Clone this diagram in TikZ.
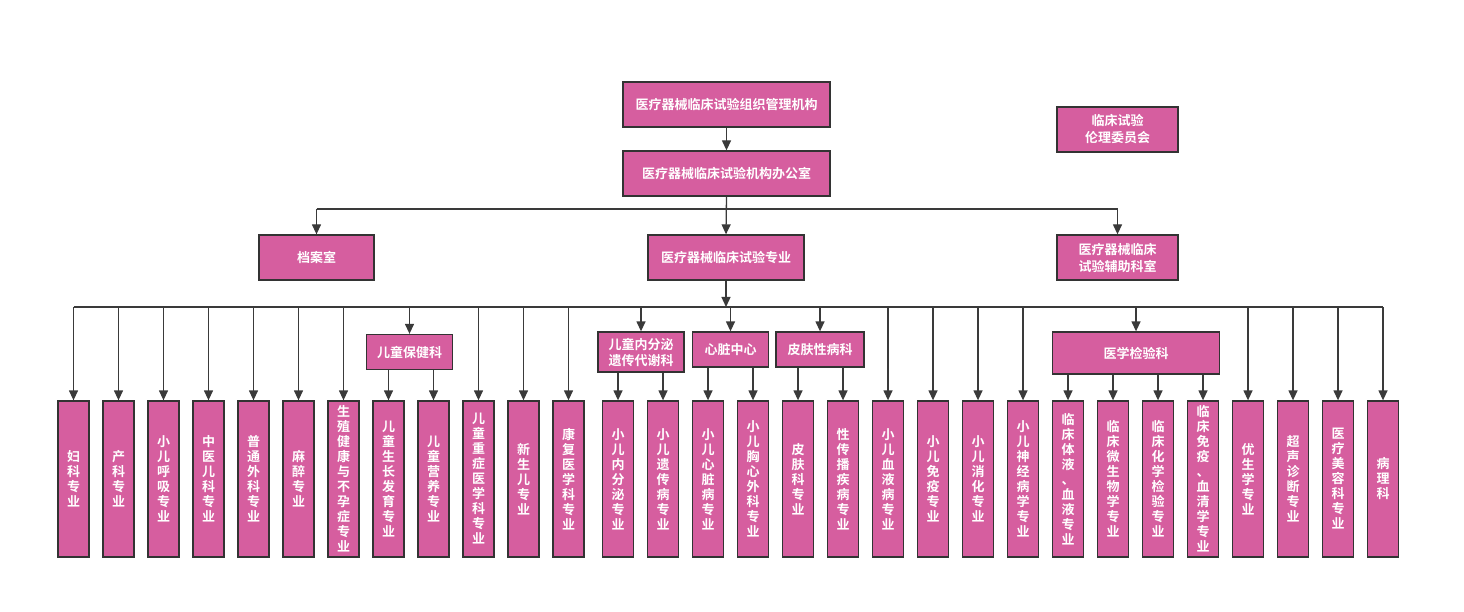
\documentclass[tikz,border=0pt]{standalone}
\usepackage{fontspec}
\setmainfont{Noto Sans CJK SC}[BoldFont={Noto Sans CJK SC Bold}]
\usetikzlibrary{arrows.meta}
\definecolor{boxfill}{RGB}{214,94,159}
\definecolor{boxline}{RGB}{51,51,51}
\definecolor{conn}{RGB}{58,58,58}
\tikzset{
  box/.style={draw=boxline, fill=boxfill, line width=1.3pt, text=white,
    font=\bfseries\fontsize{13}{17}\selectfont, align=center, inner sep=0pt},
  leaf/.style={box, minimum width=31pt, minimum height=156pt,
    font=\bfseries\fontsize{13}{15}\selectfont},
  grp/.style={box, font=\bfseries\fontsize{13}{16}\selectfont},
  wire/.style={draw=conn, line width=1.3pt},
  arr/.style={wire, -{Triangle[length=10pt,width=9pt]}}
}
\begin{document}
\begin{tikzpicture}[x=1pt,y=-1pt]
\useasboundingbox (0,0) rectangle (1464,612);
\coordinate (b1) at (0,209);
\coordinate (b2) at (0,307);
% upper levels
\node[box, minimum width=207pt, minimum height=45pt] (top) at (726.5,104.5) {医疗器械临床试验组织管理机构};
\node[box, minimum width=207pt, minimum height=45pt] (office) at (726.5,173.5) {医疗器械临床试验机构办公室};
\node[box, minimum width=121pt, minimum height=45pt] (ethics) at (1117.5,129.5) {临床试验\\伦理委员会};
\node[box, minimum width=115pt, minimum height=45pt] (archive) at (316.5,257.5) {档案室};
\node[box, minimum width=156pt, minimum height=45pt] (major) at (726,257.5) {医疗器械临床试验专业};
\node[box, minimum width=121pt, minimum height=45pt] (aux) at (1117.5,257.5) {医疗器械临床\\试验辅助科室};
% group boxes
\node[grp, minimum width=86pt, minimum height=35pt] (g1) at (409.5,352) {儿童保健科};
\node[grp, minimum width=86pt, minimum height=40pt] (g2) at (641,352) {儿童内分泌\\遗传代谢科};
\node[grp, minimum width=76pt, minimum height=35pt] (g3) at (730.5,349.5) {心脏中心};
\node[grp, minimum width=88pt, minimum height=35pt] (g4) at (820,349.5) {皮肤性病科};
\node[grp, minimum width=167pt, minimum height=42pt] (g5) at (1136,353) {医学检验科};
% leaves
\node[leaf] (l1) at (73.5,479) {妇\\科\\专\\业};
\node[leaf] (l2) at (118.5,479) {产\\科\\专\\业};
\node[leaf] (l3) at (163.5,479) {小\\儿\\呼\\吸\\专\\业};
\node[leaf] (l4) at (208.5,479) {中\\医\\儿\\科\\专\\业};
\node[leaf] (l5) at (253.5,479) {普\\通\\外\\科\\专\\业};
\node[leaf] (l6) at (298.5,479) {麻\\醉\\专\\业};
\node[leaf] (l7) at (343.5,479) {生\\殖\\健\\康\\与\\不\\孕\\症\\专\\业};
\node[leaf] (l8) at (388.5,479) {儿\\童\\生\\长\\发\\育\\专\\业};
\node[leaf] (l9) at (433.5,479) {儿\\童\\营\\养\\专\\业};
\node[leaf] (l10) at (478.5,479) {儿\\童\\重\\症\\医\\学\\科\\专\\业};
\node[leaf] (l11) at (523.5,479) {新\\生\\儿\\专\\业};
\node[leaf] (l12) at (568.5,479) {康\\复\\医\\学\\科\\专\\业};
\node[leaf] (l13) at (618,479) {小\\儿\\内\\分\\泌\\专\\业};
\node[leaf] (l14) at (663,479) {小\\儿\\遗\\传\\病\\专\\业};
\node[leaf] (l15) at (708,479) {小\\儿\\心\\脏\\病\\专\\业};
\node[leaf] (l16) at (753,479) {小\\儿\\胸\\心\\外\\科\\专\\业};
\node[leaf] (l17) at (798,479) {皮\\肤\\科\\专\\业};
\node[leaf] (l18) at (843,479) {性\\传\\播\\疾\\病\\专\\业};
\node[leaf] (l19) at (888,479) {小\\儿\\血\\液\\病\\专\\业};
\node[leaf] (l20) at (933,479) {小\\儿\\免\\疫\\专\\业};
\node[leaf] (l21) at (978,479) {小\\儿\\消\\化\\专\\业};
\node[leaf] (l22) at (1023,479) {小\\儿\\神\\经\\病\\学\\专\\业};
\node[leaf] (l23) at (1068,479) {临\\床\\体\\液\\、\\血\\液\\专\\业};
\node[leaf] (l24) at (1113,479) {临\\床\\微\\生\\物\\学\\专\\业};
\node[leaf] (l25) at (1158,479) {临\\床\\化\\学\\检\\验\\专\\业};
\node[leaf] (l26) at (1203,479) {临\\床\\免\\疫\\、\\血\\清\\学\\专\\业};
\node[leaf] (l27) at (1248,479) {优\\生\\学\\专\\业};
\node[leaf] (l28) at (1293,479) {超\\声\\诊\\断\\专\\业};
\node[leaf] (l29) at (1338,479) {医\\疗\\美\\容\\科\\专\\业};
\node[leaf] (l30) at (1383,479) {病\\理\\科};
% upper connectors
\draw[arr] (top.south) -- (office.north);
\draw[arr] (office.south) -- (major.north);
\draw[wire] (archive.north |- b1) -- (aux.north |- b1);
\draw[arr] (archive.north |- b1) -- (archive.north);
\draw[arr] (aux.north |- b1) -- (aux.north);
% second bus
\draw[arr] (major.south) -- (major.south |- b2);
\draw[wire] (l1.north |- b2) -- (l30.north |- b2);
\foreach \n in {l1,l2,l3,l4,l5,l6,l7,l10,l11,l12,l19,l20,l21,l22,l27,l28,l29,l30}
  \draw[arr] (\n.north |- b2) -- (\n.north);
\foreach \g in {g1,g2,g3,g4,g5}
  \draw[arr] (\g.north |- b2) -- (\g.north);
\foreach \g/\n in {g1/l8,g1/l9,g2/l13,g2/l14,g3/l15,g3/l16,g4/l17,g4/l18,g5/l23,g5/l24,g5/l25,g5/l26}
  \draw[arr] (\g.south -| \n.north) -- (\n.north);
\end{tikzpicture}
\end{document}
